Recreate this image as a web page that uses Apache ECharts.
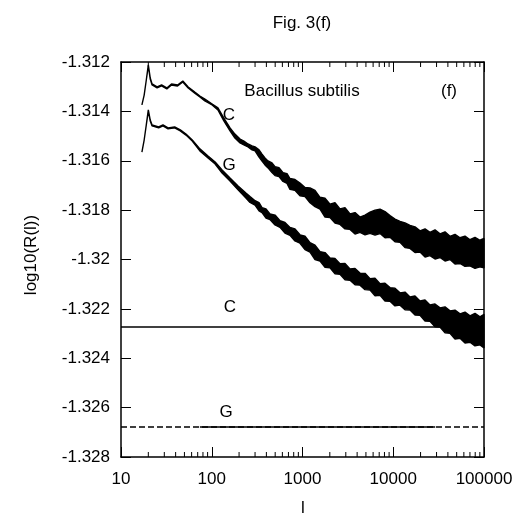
<!DOCTYPE html>
<html>
<head>
<meta charset="utf-8">
<script src="https://cdn.jsdelivr.net/npm/echarts@6/dist/echarts.min.js"></script>
<style>html,body{margin:0;padding:0;background:#fff}#c{width:531px;height:520px}</style>
</head>
<body>
<div id="c"></div>
<script>
// ---- data ----
const xTicks = [10, 100, 1000, 10000, 100000];
const minorTicks = [20,30,40,50,60,70,80,90,200,300,400,500,600,700,800,900,2000,3000,4000,5000,6000,7000,8000,9000,20000,30000,40000,50000,60000,70000,80000,90000];
const yMin = -1.328, yMax = -1.312, yStep = 0.002;

// C curve (upper): l, upper edge of noise band, lower edge of noise band
const cL = [17,18,19,20,21,22,25,28,32,36,42,48,55,65,74,84,101,117,136,159,180,205,226,251,278,300,332,358,386,417,461,498,551,610,675,728,826,938,1066,1210,1373,1560,1770,2010,2281,2590,2940,3340,3790,4300,4884,5550,6295,7150,8110,9210,10450,11870,13475,15300,17370,19720,22390,25400,28840,32740,37170,42200,47900,54400,61740,70100,79570,90300,100000];
const cHi = [-1.31374,-1.31334,-1.31273,-1.31212,-1.31265,-1.31289,-1.31301,-1.31293,-1.31305,-1.31289,
  -1.31293,-1.31277,-1.31301,-1.31322,-1.31338,-1.31350,-1.31370,-1.31386,-1.31427,-1.31467,
  -1.31492,-1.31512,-1.31520,-1.31532,-1.31540,-1.31544,-1.31556,-1.31573,-1.31589,-1.31601,
  -1.31609,-1.31624,-1.31628,-1.31648,-1.31652,-1.31672,-1.31676,-1.31690,-1.31708,-1.31710,
  -1.31720,-1.31748,-1.31752,-1.31776,-1.31770,-1.31795,-1.31790,-1.31815,-1.31810,-1.31828,
  -1.31820,-1.31808,-1.31800,-1.31796,-1.31806,-1.31822,-1.31836,-1.31846,-1.31852,-1.31862,
  -1.31868,-1.31884,-1.31876,-1.31890,-1.31880,-1.31896,-1.31888,-1.31906,-1.31898,-1.31912,
  -1.31905,-1.31920,-1.31910,-1.31922,-1.31915];
const cLo = [-1.31374,-1.31334,-1.31273,-1.31216,-1.31269,-1.31293,-1.31305,-1.31297,-1.31309,-1.31293,
  -1.31297,-1.31281,-1.31305,-1.31326,-1.31342,-1.31358,-1.31374,-1.31394,-1.31439,-1.31479,
  -1.31508,-1.31528,-1.31536,-1.31544,-1.31556,-1.31560,-1.31585,-1.31601,-1.31617,-1.31629,
  -1.31648,-1.31660,-1.31664,-1.31684,-1.31692,-1.31716,-1.31720,-1.31742,-1.31745,-1.31770,
  -1.31786,-1.31796,-1.31828,-1.31830,-1.31852,-1.31858,-1.31876,-1.31878,-1.31897,-1.31890,
  -1.31900,-1.31894,-1.31901,-1.31895,-1.31912,-1.31910,-1.31928,-1.31930,-1.31952,-1.31955,
  -1.31972,-1.31970,-1.31990,-1.31984,-1.31998,-1.31992,-1.32006,-1.32000,-1.32018,-1.32016,
  -1.32028,-1.32026,-1.32036,-1.32030,-1.32034];

// G curve (lower)
const gL = [17,18,19,20,21,22,26,29,33,39,45,52,61,74,91,109,130,159,195,238,264,300,332,358,396,438,498,565,641,728,826,938,1066,1210,1373,1560,1770,2010,2281,2590,2940,3340,3790,4300,4884,5550,6295,7150,8110,9210,10450,11870,13475,15300,17370,19720,22390,25400,28840,32740,37170,42200,47900,54400,61740,70100,79570,90300,100000];
const gHi = [-1.31565,-1.31516,-1.31455,-1.31394,-1.31435,-1.31455,-1.31463,-1.31455,-1.31467,-1.31463,
  -1.31475,-1.31492,-1.31516,-1.31552,-1.31581,-1.31605,-1.31637,-1.31670,-1.31702,-1.31731,
  -1.31745,-1.31762,-1.31770,-1.31790,-1.31795,-1.31815,-1.31820,-1.31843,-1.31850,-1.31870,
  -1.31876,-1.31900,-1.31906,-1.31932,-1.31942,-1.31968,-1.31972,-1.31994,-1.31996,-1.32017,
  -1.32016,-1.32038,-1.32036,-1.32055,-1.32056,-1.32078,-1.32076,-1.32098,-1.32096,-1.32114,
  -1.32116,-1.32135,-1.32132,-1.32152,-1.32148,-1.32168,-1.32164,-1.32184,-1.32180,-1.32196,
  -1.32192,-1.32208,-1.32205,-1.32220,-1.32213,-1.32228,-1.32218,-1.32232,-1.32222];
const gLo = [-1.31565,-1.31516,-1.31455,-1.31398,-1.31439,-1.31459,-1.31467,-1.31459,-1.31471,-1.31467,
  -1.31479,-1.31496,-1.31520,-1.31560,-1.31589,-1.31613,-1.31650,-1.31682,-1.31718,-1.31751,
  -1.31769,-1.31780,-1.31803,-1.31810,-1.31832,-1.31838,-1.31860,-1.31870,-1.31893,-1.31902,
  -1.31925,-1.31934,-1.31960,-1.31970,-1.32000,-1.32006,-1.32032,-1.32034,-1.32058,-1.32060,
  -1.32082,-1.32084,-1.32102,-1.32104,-1.32122,-1.32124,-1.32147,-1.32145,-1.32168,-1.32169,
  -1.32188,-1.32185,-1.32204,-1.32205,-1.32225,-1.32226,-1.32249,-1.32250,-1.32273,-1.32274,
  -1.32297,-1.32299,-1.32322,-1.32319,-1.32338,-1.32335,-1.32350,-1.32346,-1.32358];

// horizontal reference levels
const levelC = -1.32273;
const levelG = -1.32678;
const levelGSolid = [74, 29000];

// ---- chart ----
const FONT = 'Liberation Sans, Arial, Helvetica, sans-serif';
const chart = echarts.init(document.getElementById('c'), null, {renderer: 'canvas'});

function bandRender(L, hi, lo) {
  return function (params, api) {
    const pts = [];
    for (let i = 0; i < L.length; i++) pts.push(api.coord([L[i], hi[i]]));
    for (let i = L.length - 1; i >= 0; i--) pts.push(api.coord([L[i], lo[i]]));
    return {type: 'polygon', shape: {points: pts},
      style: {fill: '#000', stroke: '#000', lineWidth: 1.4, lineJoin: 'bevel'}};
  };
}

const axisLineStyle = {show: true, lineStyle: {color: '#000', width: 1.5}};
const xAxisBase = {
  type: 'log', logBase: 10, min: 10, max: 100000,
  axisLine: axisLineStyle,
  axisTick: {show: true, inside: true, length: 10, lineStyle: {color: '#000', width: 1}},
  splitLine: {show: false}, minorTick: {show: false}
};
const yAxisBase = {
  type: 'value', min: yMin, max: yMax, interval: yStep, scale: true,
  axisLine: axisLineStyle,
  axisTick: {show: true, inside: true, length: 10, lineStyle: {color: '#000', width: 1}},
  splitLine: {show: false}
};

chart.setOption({
  animation: false,
  backgroundColor: '#fff',
  grid: {left: 121, right: 47, top: 62, bottom: 63},
  xAxis: [
    Object.assign({}, xAxisBase, {position: 'bottom',
      axisLabel: {show: true, margin: 14, fontFamily: FONT, fontSize: 17, color: '#000',
        formatter: v => { const r = Math.round(v); return xTicks.indexOf(r) >= 0 ? String(r) : ''; }}}),
    Object.assign({}, xAxisBase, {position: 'top', axisLabel: {show: false}})
  ],
  yAxis: [
    Object.assign({}, yAxisBase, {position: 'left',
      axisLabel: {show: true, margin: 11, fontFamily: FONT, fontSize: 17, color: '#000',
        formatter: v => String(+(+v).toFixed(3))}}),
    Object.assign({}, yAxisBase, {position: 'right', axisLabel: {show: false}})
  ],
  series: [
    {type: 'line', name: 'C level', data: [[10, levelC], [100000, levelC]], showSymbol: false, silent: true,
      lineStyle: {color: '#000', width: 1.5}, z: 2},
    {type: 'line', name: 'G level', data: [[10, levelG], [100000, levelG]], showSymbol: false, silent: true,
      lineStyle: {color: '#000', width: 1.5, type: [6, 3]}, z: 2},
    {type: 'line', name: 'G level solid', data: [[levelGSolid[0], levelG], [levelGSolid[1], levelG]], showSymbol: false, silent: true,
      lineStyle: {color: '#000', width: 1.5}, z: 2},
    {type: 'custom', name: 'C', data: [[cL[0], cHi[0]]], renderItem: bandRender(cL, cHi, cLo), silent: true, z: 3},
    {type: 'custom', name: 'G', data: [[gL[0], gHi[0]]], renderItem: bandRender(gL, gHi, gLo), silent: true, z: 3},
    {type: 'custom', name: 'minor ticks', data: minorTicks.map(v => [v, yMin]), silent: true, z: 4,
      renderItem: function (params, api) {
        const b = api.coord([api.value(0), yMin]);
        const t = api.coord([api.value(0), yMax]);
        return {type: 'group', children: [
          {type: 'line', shape: {x1: b[0], y1: b[1], x2: b[0], y2: b[1] - 5}, style: {stroke: '#000', lineWidth: 1}},
          {type: 'line', shape: {x1: t[0], y1: t[1], x2: t[0], y2: t[1] + 5}, style: {stroke: '#000', lineWidth: 1}}
        ]};
      }}
  ],
  graphic: [
    {type: 'text', x: 302, y: 23, style: {text: 'Fig. 3(f)', font: '17px ' + FONT, fill: '#000', align: 'center', verticalAlign: 'middle'}},
    {type: 'text', x: 302, y: 91, style: {text: 'Bacillus subtilis', font: '17px ' + FONT, fill: '#000', align: 'center', verticalAlign: 'middle'}},
    {type: 'text', x: 449, y: 91, style: {text: '(f)', font: '17px ' + FONT, fill: '#000', align: 'center', verticalAlign: 'middle'}},
    {type: 'text', x: 229, y: 115, style: {text: 'C', font: '17px ' + FONT, fill: '#000', align: 'center', verticalAlign: 'middle'}},
    {type: 'text', x: 229, y: 165, style: {text: 'G', font: '17px ' + FONT, fill: '#000', align: 'center', verticalAlign: 'middle'}},
    {type: 'text', x: 230, y: 307, style: {text: 'C', font: '17px ' + FONT, fill: '#000', align: 'center', verticalAlign: 'middle'}},
    {type: 'text', x: 226, y: 412, style: {text: 'G', font: '17px ' + FONT, fill: '#000', align: 'center', verticalAlign: 'middle'}},
    {type: 'text', x: 303, y: 508, style: {text: 'l', font: '17px ' + FONT, fill: '#000', align: 'center', verticalAlign: 'middle'}},
    {type: 'text', x: 31, y: 255, rotation: Math.PI / 2, style: {text: 'log10(R(l))', font: '17px ' + FONT, fill: '#000', align: 'center', verticalAlign: 'middle'}}
  ]
});
</script>
</body>
</html>
